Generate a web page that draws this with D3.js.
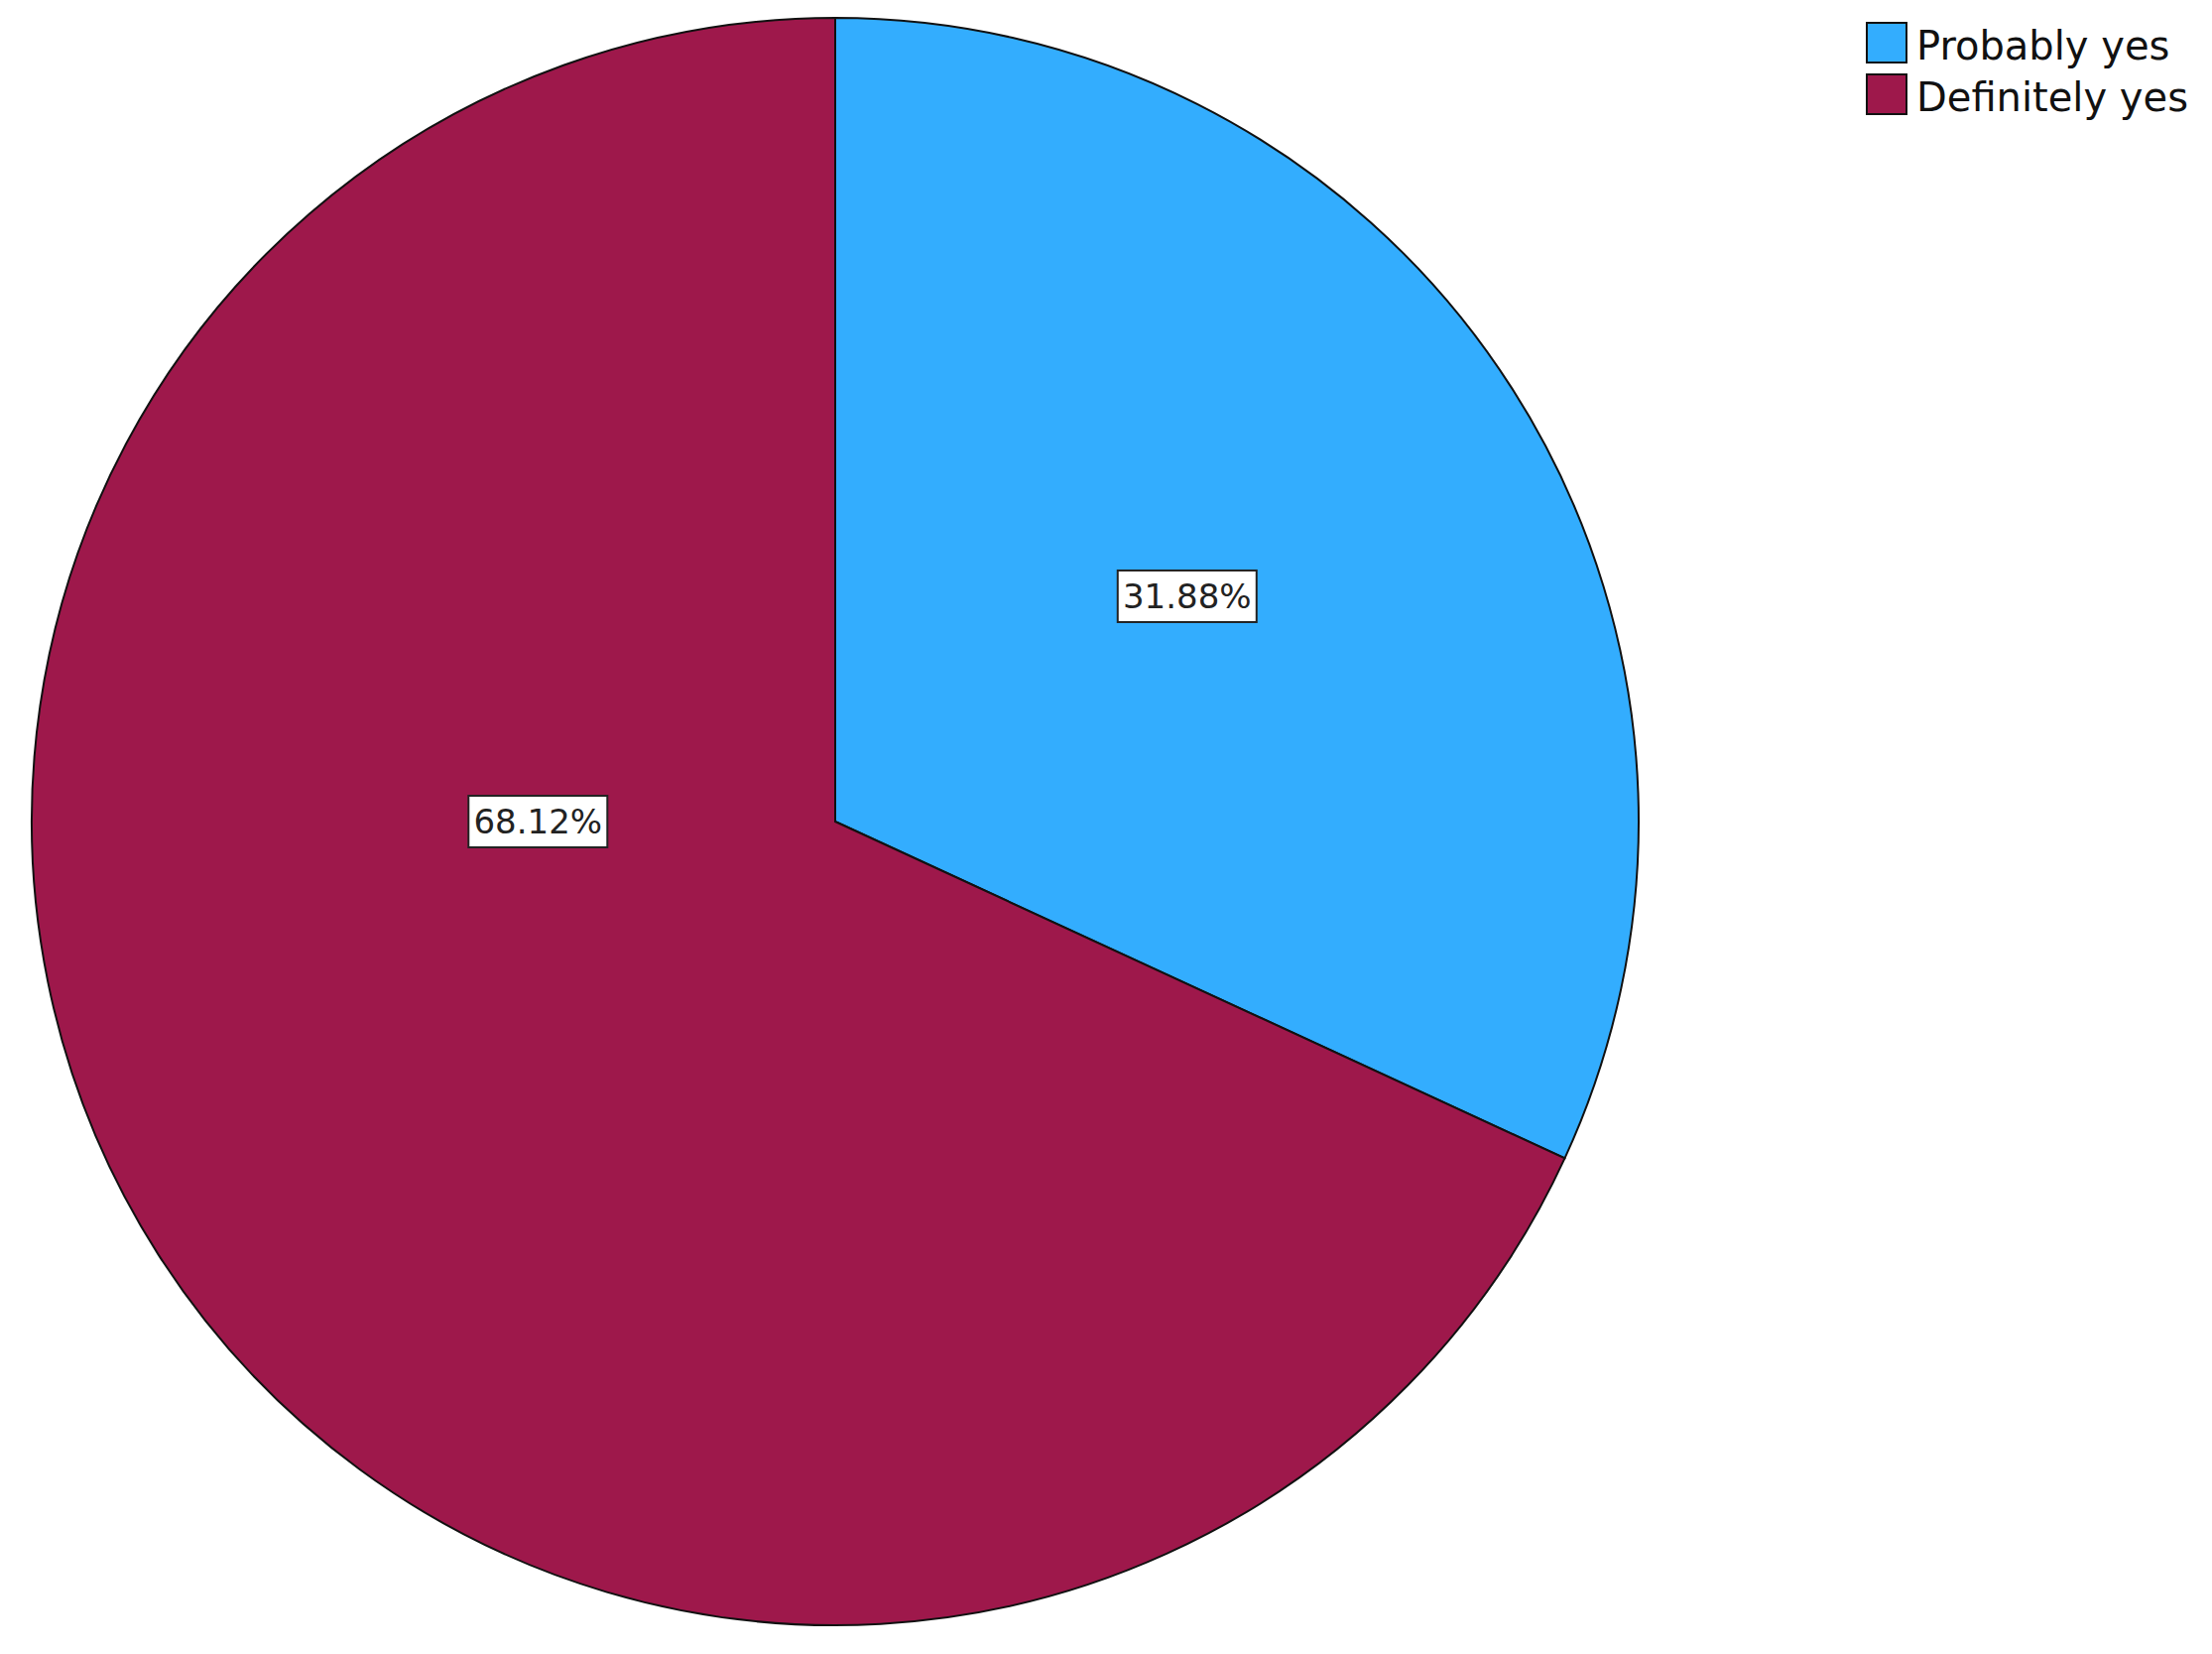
<!DOCTYPE html>
<html>
<head>
<meta charset="utf-8">
<script src="https://cdn.jsdelivr.net/npm/d3@7/dist/d3.min.js"></script>
<style>
  body { margin: 0; background: #fff; }
  #pieCt { width: 2230px; height: 1667px; }
</style>
</head>
<body>
<div id="pieCt"></div>
<script>
// data
const categories = ["Probably yes", "Definitely yes"];
const percents = [31.88, 68.12];
const labels = ["31.88%", "68.12%"];
const colors = ["#33adfe", "#9e184b"];

const width = 2230, height = 1667;
const cx = 842, cy = 828, radius = 810;

const svg = d3.select("#pieCt")
    .append("svg")
    .attr("width", width)
    .attr("height", height);

const g = svg.append("g")
    .attr("transform", `translate(${cx}, ${cy})`);

const color = d3.scaleOrdinal(categories, colors);

const pie = d3.pie()
    .value(d => d.value)
    .sort(null);

const arcs = pie(categories.map((c, i) => ({ name: c, value: percents[i], label: labels[i] })));

const arc = d3.arc()
    .innerRadius(0)
    .outerRadius(radius);

g.selectAll("path")
    .data(arcs)
    .enter().append("path")
    .attr("d", arc)
    .attr("fill", d => color(d.data.name))
    .attr("stroke", "#111")
    .attr("stroke-width", 2);

// label placement (SPSS-style): radius fraction and optional fixed screen angle
const labelPlace = [{ r: 0.52 }, { r: 0.37, angle: Math.PI }];

const lbl = g.selectAll(".lbl")
    .data(arcs)
    .enter().append("g")
    .attr("class", "lbl")
    .attr("transform", (d, i) => {
        const p = labelPlace[i];
        const a = p.angle !== undefined ? p.angle : (d.startAngle + d.endAngle) / 2 - Math.PI / 2;
        return `translate(${Math.cos(a) * radius * p.r}, ${Math.sin(a) * radius * p.r})`;
    });

lbl.append("rect")
    .attr("x", -70).attr("y", -26)
    .attr("width", 140).attr("height", 52)
    .attr("fill", "#fff")
    .attr("stroke", "#222")
    .attr("stroke-width", 2);

lbl.append("text")
    .attr("text-anchor", "middle")
    .attr("dy", "0.36em")
    .style("font-family", "'DejaVu Sans', sans-serif")
    .style("font-size", "34px")
    .style("fill", "#222")
    .text(d => d.data.label);

// legend
const legend = svg.append("g")
    .attr("transform", "translate(1882, 23)");

const item = legend.selectAll(".item")
    .data(categories)
    .enter().append("g")
    .attr("class", "item")
    .attr("transform", (d, i) => `translate(0, ${i * 52})`);

item.append("rect")
    .attr("width", 40).attr("height", 40)
    .attr("fill", d => color(d))
    .attr("stroke", "#111")
    .attr("stroke-width", 2);

item.append("text")
    .attr("x", 50)
    .attr("y", 23)
    .attr("dy", "0.36em")
    .style("font-family", "'DejaVu Sans', sans-serif")
    .style("font-size", "40px")
    .style("fill", "#111")
    .text(d => d);
</script>
</body>
</html>
